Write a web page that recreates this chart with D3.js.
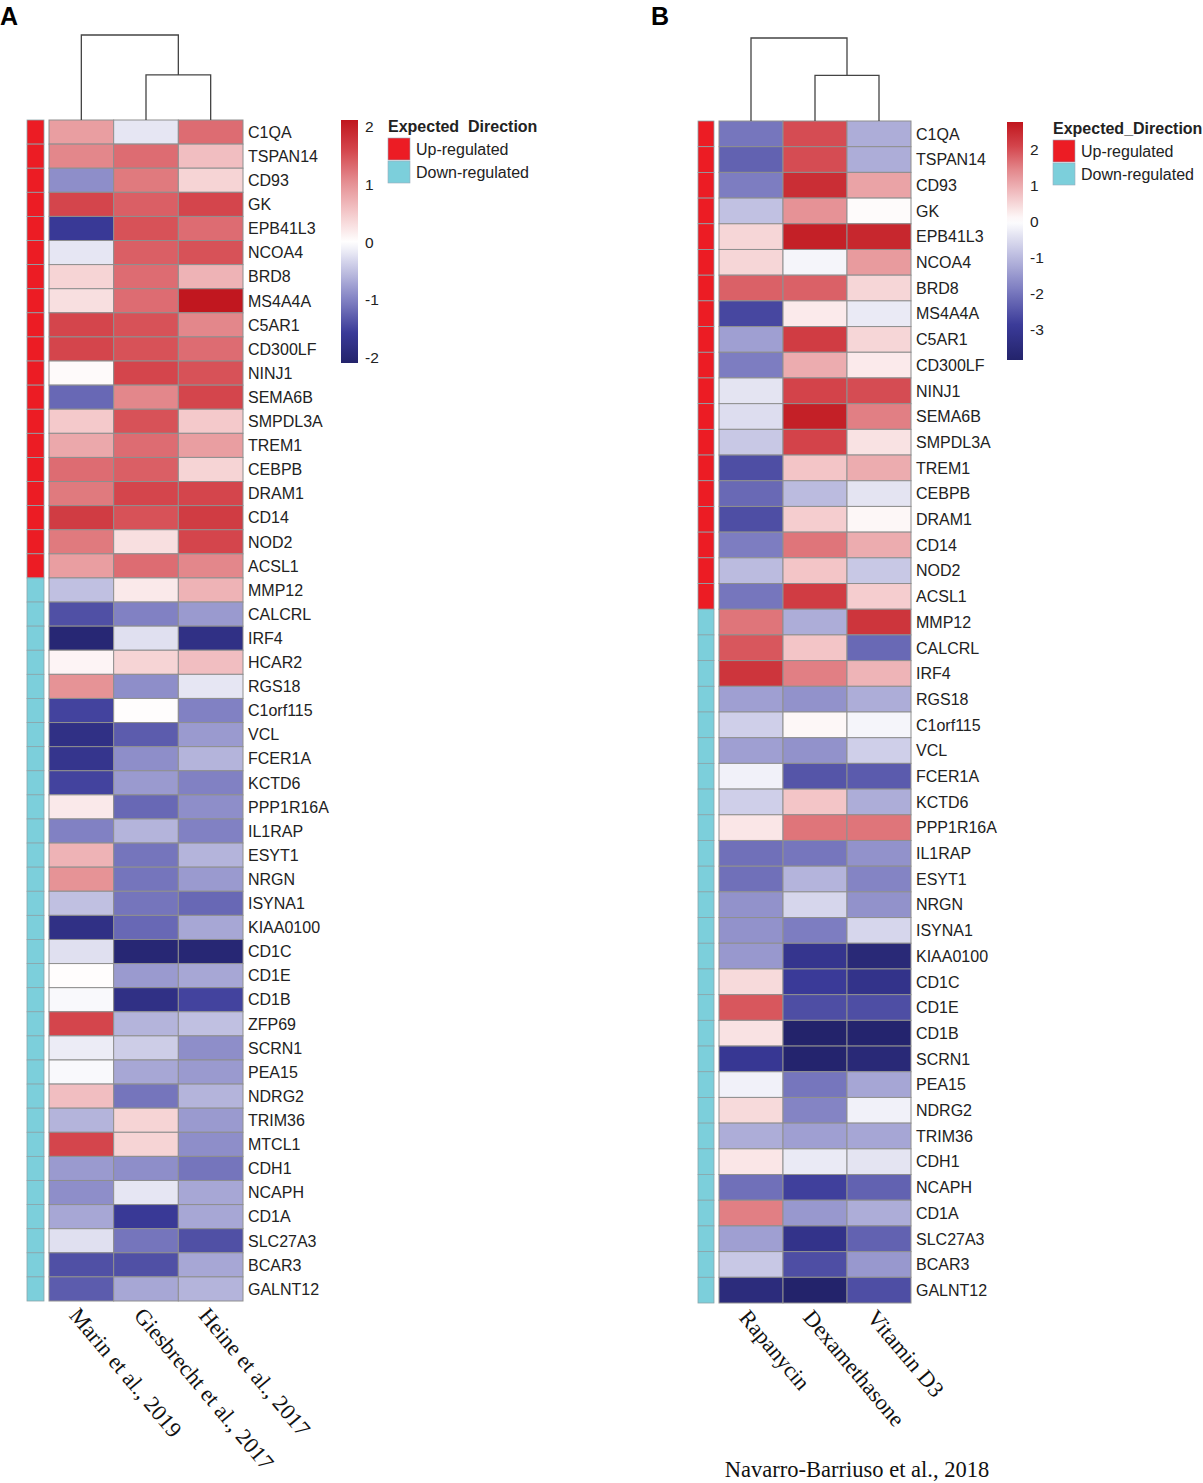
<!DOCTYPE html>
<html>
<head>
<meta charset="utf-8">
<script src="https://cdn.jsdelivr.net/npm/d3@7"></script>
<style>
  body { margin: 0; background: #fff; }
  svg { display: block; }
</style>
</head>
<body>
<div id="chart"></div>
<script>
// ---- data, panel A ----
var upGenesA = ["C1QA","TSPAN14","CD93","GK","EPB41L3","NCOA4","BRD8","MS4A4A","C5AR1","CD300LF",
  "NINJ1","SEMA6B","SMPDL3A","TREM1","CEBPB","DRAM1","CD14","NOD2","ACSL1"];
var downGenesA = ["MMP12","CALCRL","IRF4","HCAR2","RGS18","C1orf115","VCL","FCER1A","KCTD6","PPP1R16A",
  "IL1RAP","ESYT1","NRGN","ISYNA1","KIAA0100","CD1C","CD1E","CD1B","ZFP69","SCRN1","PEA15","NDRG2",
  "TRIM36","MTCL1","CDH1","NCAPH","CD1A","SLC27A3","BCAR3","GALNT12"];
var studiesA = ["Marin et al., 2019","Giesbrecht et al., 2017","Heine et al., 2017"];

var marin = [0.9,1.1,-0.9,1.6,-1.6,-0.2,0.4,0.3,1.6,1.6,0.05,-1.2,0.5,0.8,1.3,1.2,1.7,1.2,0.9,
  -0.5,-1.4,-2.0,0.1,1.0,-1.5,-1.8,-1.7,-1.5,0.2,-1.0,0.7,1.0,-0.5,-1.8,-0.25,0.02,-0.05,1.6,-0.15,
  -0.05,0.6,-0.6,1.6,-0.8,-0.9,-0.7,-0.25,-1.4,-1.3];
var giesbrecht = [-0.2,1.3,1.2,1.4,1.5,1.4,1.3,1.3,1.5,1.5,1.6,1.1,1.5,1.3,1.4,1.6,1.5,0.3,1.3,
  0.2,-1.0,-0.25,0.4,-0.9,0.02,-1.3,-0.9,-0.8,-1.2,-0.6,-1.1,-1.1,-1.1,-1.2,-2.0,-0.8,-1.8,-0.6,-0.4,
  -0.7,-1.1,0.4,0.4,-0.9,-0.2,-1.6,-1.1,-1.4,-0.7];
var heine = [1.3,0.6,0.4,1.6,1.3,1.5,0.7,2.1,1.1,1.3,1.5,1.6,0.5,0.9,0.4,1.6,1.7,1.6,1.1,
  0.7,-0.8,-1.8,0.6,-0.2,-1.0,-0.8,-0.6,-1.0,-0.9,-1.0,-0.6,-0.8,-1.2,-0.7,-2.0,-0.7,-1.5,-0.5,-0.9,
  -0.8,-0.6,-0.8,-0.9,-1.1,-0.7,-0.7,-1.4,-0.7,-0.6];
var ticksA = [2, 1, 0, -1, -2];

// ---- data, panel B ----
var upGenesB = ["C1QA","TSPAN14","CD93","GK","EPB41L3","NCOA4","BRD8","MS4A4A","C5AR1","CD300LF",
  "NINJ1","SEMA6B","SMPDL3A","TREM1","CEBPB","DRAM1","CD14","NOD2","ACSL1"];
var downGenesB = ["MMP12","CALCRL","IRF4","RGS18","C1orf115","VCL","FCER1A","KCTD6","PPP1R16A","IL1RAP",
  "ESYT1","NRGN","ISYNA1","KIAA0100","CD1C","CD1E","CD1B","SCRN1","PEA15","NDRG2","TRIM36","CDH1",
  "NCAPH","CD1A","SLC27A3","BCAR3","GALNT12"];
var treatmentsB = ["Rapanycin","Dexamethasone","Vitamin D3"];

var rapamycin = [-2.0,-2.3,-1.9,-0.9,0.5,0.5,1.8,-2.7,-1.4,-1.9,-0.4,-0.5,-0.8,-2.6,-2.2,-2.6,-1.9,-1.0,-2.0,
  1.6,1.9,2.3,-1.4,-0.7,-1.4,-0.2,-0.7,0.3,-2.1,-2.1,-1.6,-1.6,-1.5,0.45,1.9,0.35,-3.0,-0.2,0.45,
  -1.2,0.3,-2.1,1.5,-1.4,-0.8,-3.5];
var dexamethasone = [2.0,2.0,2.4,1.3,2.6,-0.15,1.8,0.25,2.2,1.0,2.1,2.6,2.1,0.7,-1.0,0.6,1.6,0.7,2.2,
  -1.2,0.7,1.5,-1.6,0.1,-1.6,-2.5,0.7,1.6,-2.0,-1.1,-0.6,-1.9,-3.1,-2.9,-2.6,-3.85,-3.8,-2.0,-1.8,
  -1.4,-0.3,-2.8,-1.5,-3.2,-2.6,-3.85];
var vitaminD3 = [-1.2,-1.2,1.1,0.05,2.5,1.2,0.5,-0.3,0.5,0.25,2.0,1.5,0.35,1.0,-0.4,0.1,1.0,-0.8,0.6,
  2.3,-2.2,0.9,-1.2,-0.15,-0.7,-2.4,-1.2,1.6,-1.6,-1.8,-1.6,-0.6,-3.6,-3.2,-2.6,-3.8,-3.6,-1.3,-0.2,
  -1.3,-0.4,-2.3,-1.2,-2.3,-1.5,-2.6];
var ticksB = [2, 1, 0, -1, -2, -3];

// ---- setup ----
var w = 1203, h = 1483;
// colour stops at -1, -0.75, -0.5, -0.25, 0, 0.25, 0.5, 0.75, 1 of each half
var ramp = ["#23236b","#3a3a98","#7b7bc0","#bdbde0","#ffffff","#f3c6c8","#e48c90","#d4464d","#c0151d"];
var dirColor = { up: "#ec1c24", down: "#7ccfdb" };

var svg = d3.select("#chart").append("svg")
  .attr("width", w)
  .attr("height", h);

function drawPanel(p) {
  var g = svg.append("g");
  var genes = p.up.concat(p.down);
  var dirs = p.up.map(function() { return "up"; }).concat(p.down.map(function() { return "down"; }));

  var x = d3.scaleBand().domain(p.columns).range([p.left, p.right]);
  var y = d3.scaleBand().domain(genes).range([p.top, p.bottom]);
  var color = d3.scaleLinear()
    .domain([p.lo, p.lo * 0.75, p.lo * 0.5, p.lo * 0.25, 0, p.hi * 0.25, p.hi * 0.5, p.hi * 0.75, p.hi])
    .range(ramp)
    .clamp(true);

  // heatmap cells
  var cells = [];
  genes.forEach(function(gene, i) {
    p.columns.forEach(function(col, j) {
      cells.push({ gene: gene, col: col, v: p.series[j][i] });
    });
  });
  g.selectAll("rect.cell")
    .data(cells)
    .enter()
    .append("rect")
    .attr("class", "cell")
    .attr("x", function(d) { return x(d.col); })
    .attr("y", function(d) { return y(d.gene); })
    .attr("width", x.bandwidth())
    .attr("height", y.bandwidth())
    .attr("fill", function(d) { return color(d.v); })
    .attr("stroke", "#8f8f8f")
    .attr("stroke-width", 1);

  // annotation column
  g.selectAll("rect.ann")
    .data(genes)
    .enter()
    .append("rect")
    .attr("class", "ann")
    .attr("x", p.annX)
    .attr("y", function(d) { return y(d); })
    .attr("width", p.annW)
    .attr("height", y.bandwidth())
    .attr("fill", function(d, i) { return dirColor[dirs[i]]; })
    .attr("stroke", "#8aa5aa")
    .attr("stroke-width", 0.8);

  // gene labels
  g.selectAll("text.gene")
    .data(genes)
    .enter()
    .append("text")
    .attr("class", "gene")
    .attr("x", p.right + 5)
    .attr("y", function(d) { return y(d) + y.bandwidth() / 2; })
    .attr("dy", "0.36em")
    .attr("font-family", "Liberation Sans, Arial, sans-serif")
    .attr("font-size", 16)
    .attr("fill", "#222")
    .text(function(d) { return d; });

  // column labels (rotated)
  g.selectAll("text.col")
    .data(p.columns)
    .enter()
    .append("text")
    .attr("class", "col")
    .attr("transform", function(d) {
      return "translate(" + (x(d) + x.bandwidth() / 2 - 13) + "," + (p.bottom + 15) + ") rotate(50)";
    })
    .attr("font-family", "Liberation Serif, Times New Roman, serif")
    .attr("font-size", 22.5)
    .attr("fill", "#111")
    .text(function(d) { return d; });

  // dendrogram: (col1, col2) join first, then col0
  var cx = function(i) { return x(p.columns[i]) + x.bandwidth() / 2; };
  var yd = d3.scaleLinear().domain([0, 1]).range([p.top, p.dTop]);
  var mid = (cx(1) + cx(2)) / 2;
  var links = [
    [[cx(1), yd(0)], [cx(1), yd(p.joins[0])], [cx(2), yd(p.joins[0])], [cx(2), yd(0)]],
    [[cx(0), yd(0)], [cx(0), yd(p.joins[1])], [mid, yd(p.joins[1])], [mid, yd(p.joins[0])]]
  ];
  g.selectAll("path.dendro")
    .data(links)
    .enter()
    .append("path")
    .attr("class", "dendro")
    .attr("d", d3.line())
    .attr("fill", "none")
    .attr("stroke", "#444")
    .attr("stroke-width", 1.3);

  // colour legend
  var ly = d3.scaleLinear().domain([p.lo, p.hi]).range([p.legBottom, p.legTop]);
  var gradId = "grad" + p.id;
  var grad = svg.append("defs").append("linearGradient")
    .attr("id", gradId)
    .attr("x1", 0).attr("y1", 1).attr("x2", 0).attr("y2", 0);
  d3.range(0, 1.0001, 0.025).forEach(function(t) {
    grad.append("stop")
      .attr("offset", t)
      .attr("stop-color", color(p.lo + t * (p.hi - p.lo)));
  });
  g.append("rect")
    .attr("x", p.legX)
    .attr("y", p.legTop)
    .attr("width", p.legW)
    .attr("height", p.legBottom - p.legTop)
    .attr("fill", "url(#" + gradId + ")");
  g.selectAll("text.tick")
    .data(p.ticks)
    .enter()
    .append("text")
    .attr("class", "tick")
    .attr("x", p.legX + p.legW + 7)
    .attr("y", function(d) { return ly(d); })
    .attr("dy", "0.36em")
    .attr("font-family", "Liberation Sans, Arial, sans-serif")
    .attr("font-size", 15.5)
    .attr("fill", "#222")
    .text(function(d) { return d; });

  // direction legend
  g.append("text")
    .attr("x", p.keyX)
    .attr("y", p.legTop + 12)
    .attr("font-family", "Liberation Sans, Arial, sans-serif")
    .attr("font-size", 16)
    .attr("font-weight", "bold")
    .attr("fill", "#222")
    .attr("xml:space", "preserve")
    .text(p.keyTitle);
  var keys = ["up", "down"];
  var keyText = { up: "Up-regulated", down: "Down-regulated" };
  g.selectAll("rect.key")
    .data(keys)
    .enter()
    .append("rect")
    .attr("class", "key")
    .attr("x", p.keyX)
    .attr("y", function(d, i) { return p.legTop + 18 + i * 23; })
    .attr("width", 22)
    .attr("height", 22)
    .attr("fill", function(d) { return dirColor[d]; })
    .attr("stroke", "#9ab")
    .attr("stroke-width", 0.6);
  g.selectAll("text.key")
    .data(keys)
    .enter()
    .append("text")
    .attr("class", "key")
    .attr("x", p.keyX + 28)
    .attr("y", function(d, i) { return p.legTop + 29 + i * 23; })
    .attr("dy", "0.36em")
    .attr("font-family", "Liberation Sans, Arial, sans-serif")
    .attr("font-size", 16)
    .attr("fill", "#222")
    .text(function(d) { return keyText[d]; });

  // panel letter
  g.append("text")
    .attr("x", p.letterX)
    .attr("y", 25)
    .attr("font-family", "Liberation Sans, Arial, sans-serif")
    .attr("font-size", 25)
    .attr("font-weight", "bold")
    .attr("fill", "#000")
    .text(p.letter);
}

drawPanel({
  id: "A", letter: "A", letterX: 0,
  up: upGenesA, down: downGenesA, columns: studiesA, series: [marin, giesbrecht, heine],
  left: 49, right: 243, top: 120, bottom: 1301, annX: 27, annW: 17,
  dTop: 35, joins: [0.53, 1],
  lo: -2.1, hi: 2.12, ticks: ticksA,
  legX: 341, legW: 17, legTop: 120, legBottom: 363,
  keyX: 388, keyTitle: "Expected  Direction"
});

drawPanel({
  id: "B", letter: "B", letterX: 651,
  up: upGenesB, down: downGenesB, columns: treatmentsB, series: [rapamycin, dexamethasone, vitaminD3],
  left: 719, right: 911, top: 121, bottom: 1303, annX: 698, annW: 16,
  dTop: 38, joins: [0.55, 1],
  lo: -3.86, hi: 2.75, ticks: ticksB,
  legX: 1007, legW: 16, legTop: 122, legBottom: 360,
  keyX: 1053, keyTitle: "Expected_Direction"
});

svg.append("text")
  .attr("x", 857)
  .attr("y", 1477)
  .attr("text-anchor", "middle")
  .attr("font-family", "Liberation Serif, Times New Roman, serif")
  .attr("font-size", 22.5)
  .attr("fill", "#111")
  .text("Navarro-Barriuso et al., 2018");
</script>
</body>
</html>
